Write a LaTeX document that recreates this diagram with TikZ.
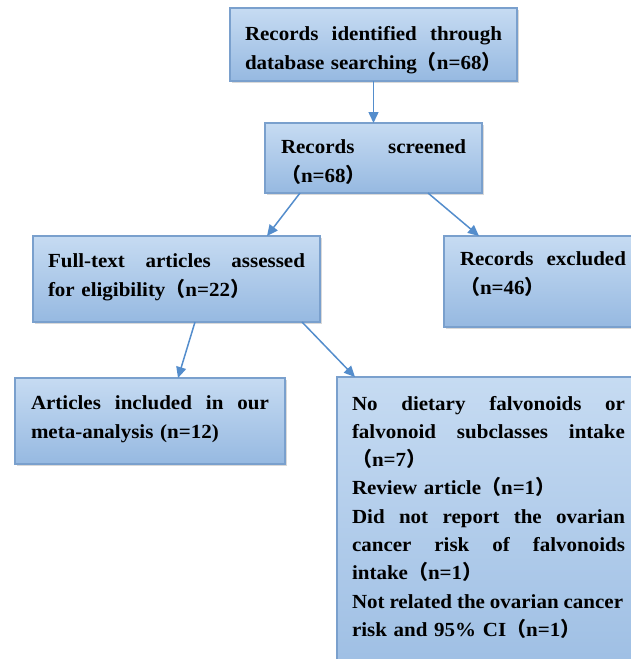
\documentclass[tikz,border=0pt]{standalone}
\usepackage{fontspec}
\setmainfont{Liberation Serif}[FakeStretch=1.05]
\newfontfamily\cjk{Noto Sans CJK SC}
\usetikzlibrary{arrows.meta,shadows}
\newcommand\lpar{{\cjk （}}
\newcommand\rpar{{\cjk ）}}
\definecolor{boxtop}{RGB}{198,219,242}
\definecolor{boxbot}{RGB}{150,185,225}
\definecolor{boxline}{RGB}{122,160,205}
\definecolor{arrowc}{RGB}{84,141,204}
\tikzset{
  box/.style={draw=boxline, line width=1.2pt, top color=boxtop, bottom color=boxbot,
    drop shadow={opacity=0.3, shadow xshift=1.5pt, shadow yshift=-1.5pt},
    anchor=north west, inner xsep=15pt, inner ysep=0pt, outer sep=0pt, align=left,
    font=\fontsize{20}{29}\selectfont\bfseries},
  arr/.style={draw=arrowc, line width=1.5pt, -{Triangle[length=11pt,width=10pt]}, fill=arrowc}
}
\begin{document}
\begin{tikzpicture}[x=1pt,y=-1pt]
\useasboundingbox (0,0) rectangle (631,659);
\clip (0,0) rectangle (631,659);
\node[box, text width=257pt, text height=32pt, text depth=41pt] (b1) at (230,8)
  {Records\hfill identified\hfill through\\ \mbox{database searching\lpar n=68\rpar}};
\node[box, inner xsep=16pt, text width=185pt, text height=30pt, text depth=40pt] (b2) at (265,123)
  {Records\hfill screened\\ \lpar n=68\rpar};
\node[box, text width=257pt, text height=31pt, text depth=55pt] (b3) at (33,236)
  {Full-text\hfill articles\hfill assessed\\ \mbox{for eligibility\lpar n=22\rpar}};
\node[box, inner xsep=16pt, text width=166pt, text height=29pt, text depth=62pt] (b4) at (444,236)
  {Records\hfill excluded\\ \lpar n=46\rpar};
\node[box, inner xsep=16pt, text width=238pt, text height=31pt, text depth=55pt] (b5) at (15,378)
  {Articles\hfill included\hfill in\hfill our\\ \mbox{meta-analysis (n=12)}};
\node[box, text width=273pt, text height=33pt, text depth=320pt,
      font=\fontsize{20}{28.3}\selectfont\bfseries] (b6) at (337,377)
  {No\hfill dietary\hfill falvonoids\hfill or\\
   falvonoid\hfill subclasses\hfill intake\\
   \lpar n=7\rpar\\
   \mbox{Review article\lpar n=1\rpar}\\
   Did\hfill not\hfill report\hfill the\hfill ovarian\\
   cancer\hfill risk\hfill of\hfill falvonoids\\
   \mbox{intake\lpar n=1\rpar}\\
   Not\hspace{0.15em plus 1fil}related\hspace{0.15em plus 1fil}the\hspace{0.15em plus 1fil}ovarian\hspace{0.15em plus 1fil}cancer\\
   \mbox{risk and 95\% CI\lpar n=1\rpar}};
\draw[arr] (b1.south) -- (b2.north);
\draw[arr] ([xshift=35pt]b2.south west) -- ([xshift=234pt]b3.north west);
\draw[arr] ([xshift=163pt]b2.south west) -- ([xshift=35pt]b4.north west);
\draw[arr] ([xshift=162pt]b3.south west) -- ([xshift=163pt]b5.north west);
\draw[arr] ([xshift=269pt]b3.south west) -- ([xshift=18pt]b6.north west);
\end{tikzpicture}
\end{document}
